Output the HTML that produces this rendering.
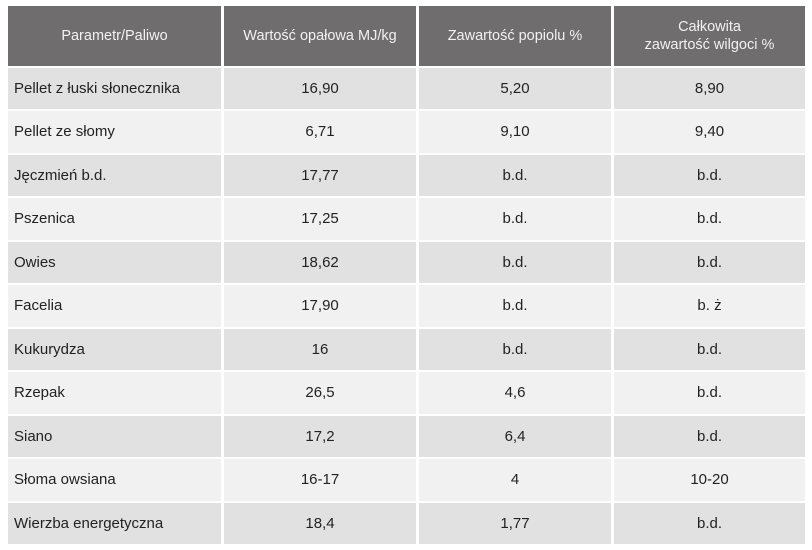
<!DOCTYPE html>
<html><head><meta charset="utf-8"><style>
body{margin:0;width:812px;height:550px;background:#fff;position:relative;font-family:"Liberation Sans",sans-serif;overflow:hidden}
.c{position:absolute;display:flex;align-items:center;justify-content:center;font-size:15px;color:#222;box-sizing:border-box;text-align:center;line-height:18px}
.h{background:#6f6d6d;color:#f2f2f2;font-size:14.5px}
.l{justify-content:flex-start;padding-left:6px}
.d{background:#e1e1e1}.w{background:#f1f1f1}
</style></head><body>
<script>
const rows=[["Pellet z łuski słonecznika","16,90","5,20","8,90"],["Pellet ze słomy","6,71","9,10","9,40"],["Jęczmień  b.d.","17,77","b.d.","b.d."],["Pszenica","17,25","b.d.","b.d."],["Owies","18,62","b.d.","b.d."],["Facelia","17,90","b.d.","b. ż"],["Kukurydza","16","b.d.","b.d."],["Rzepak","26,5","4,6","b.d."],["Siano","17,2","6,4","b.d."],["Słoma owsiana","16-17","4","10-20"],["Wierzba energetyczna","18,4","1,77","b.d."]];
const heads=["Parametr/Paliwo","Wartość opałowa MJ/kg","Zawartość popiolu %","Całkowita<br>zawartość wilgoci %"];
const cols=[[8,221],[224,416],[419,611],[614,805]];
function cell(x0,x1,y0,y1,html,cls,name){const d=document.createElement('div');d.className='c '+cls;d.style.left=x0+'px';d.style.width=(x1-x0)+'px';d.style.top=y0+'px';d.style.height=(y1-y0)+'px';d.innerHTML=html;


document.body.appendChild(d);}
heads.forEach((h,i)=>cell(cols[i][0],cols[i][1],6,66,h,'h','header-cell'));
const top0=68,rh=43.45;
rows.forEach((r,j)=>{const y0=Math.round(top0+j*rh),y1=Math.round(top0+(j+1)*rh)-2;r.forEach((v,i)=>cell(cols[i][0],cols[i][1],y0,y1,v,(j%2?'w':'d')+(i==0?' l':''),i==0?'row-label':'value-cell'));});
</script>
</body></html>
